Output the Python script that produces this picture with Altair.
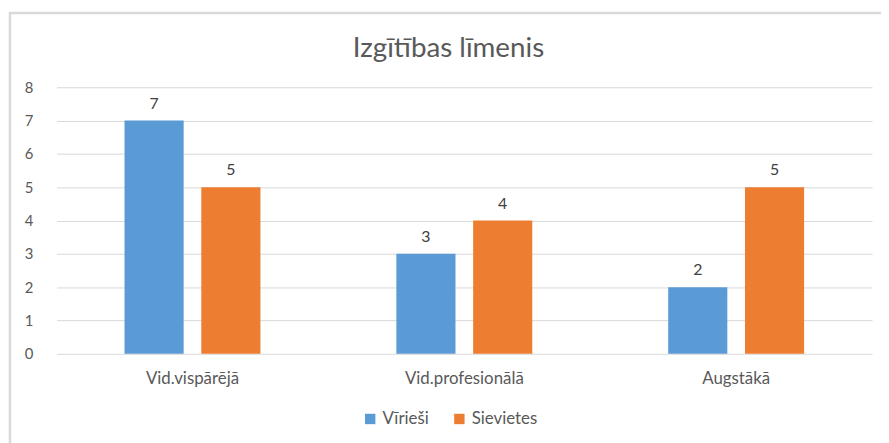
import altair as alt
import pandas as pd

categories = ["Vid.vispārējā", "Vid.profesionālā", "Augstākā"]
series = ["Vīrieši", "Sievietes"]
men = [7, 3, 2]
women = [5, 4, 5]
colors = ["#5B9BD5", "#ED7D31"]
title_text = "Izgītības līmenis"

rows = []
for c, m, w in zip(categories, men, women):
    rows.append({"cat": c, "ser": series[0], "val": m})
    rows.append({"cat": c, "ser": series[1], "val": w})
df = pd.DataFrame(rows)

FONT = "Lato"
W, H = 823, 269

x = alt.X("cat:N", sort=categories, title=None,
          scale=alt.Scale(paddingInner=0.5, paddingOuter=0.25),
          axis=alt.Axis(labelAngle=0, ticks=False, domain=False, labelPadding=17,
                        labelFontSize=17, labelColor="#595959", labelFont=FONT))
xo = alt.XOffset("ser:N", sort=series, scale=alt.Scale(paddingInner=0.23, paddingOuter=0))
y = alt.Y("val:Q", title=None,
          scale=alt.Scale(domain=[0, 8]),
          axis=alt.Axis(values=list(range(9)), ticks=False, domain=False, grid=True,
                        gridColor="#D9D9D9", gridWidth=1, labelPadding=24,
                        labelFontSize=15, labelColor="#595959", labelFont=FONT))
color = alt.Color("ser:N", sort=series, title=None,
                  scale=alt.Scale(domain=series, range=colors),
                  legend=alt.Legend(orient="none", direction="horizontal",
                                    legendX=308, legendY=326, symbolType="square",
                                    symbolSize=110, symbolStrokeWidth=0,
                                    labelFontSize=17, labelColor="#595959",
                                    labelFont=FONT, columnPadding=22, labelOffset=4))

base = alt.Chart(df)
bars = base.mark_bar(stroke=None).encode(x=x, xOffset=xo, y=y, color=color)
labels = base.mark_text(dy=-17, fontSize=16, color="#404040", font=FONT).encode(
    x=x, xOffset=xo, y=y, text="val:Q", detail="ser:N")

one = pd.DataFrame({"t": [title_text]})
border = alt.Chart(one).mark_rect(
    fill=None, stroke="#D9D9D9", strokeWidth=2.5, clip=False).encode(
    x=alt.value(-47), y=alt.value(-75), x2=alt.value(W + 40), y2=alt.value(H + 120))
title = alt.Chart(one).mark_text(
    fontSize=28, font=FONT, color="#595959", align="center", baseline="middle").encode(
    x=alt.value(W / 2 - 16), y=alt.value(-39), text="t:N")

chart = alt.layer(border, title, bars, labels).properties(
    width=W, height=H,
    autosize=alt.AutoSizeParams(type="none"),
    padding={"left": 49, "top": 78, "right": 9, "bottom": 88},
).configure_view(stroke=None)

chart.save("out.html", embed_options={"renderer": "svg", "actions": False})
